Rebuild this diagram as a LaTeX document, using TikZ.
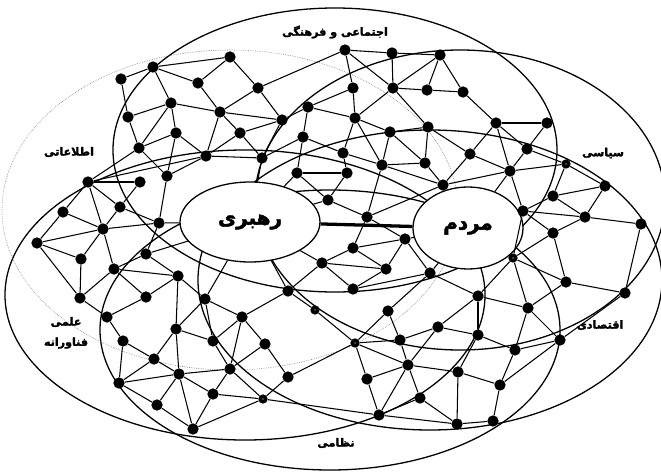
\documentclass[tikz,border=0pt]{standalone}
\usepackage{fontspec}
\usepackage{tikz}
\usetikzlibrary{shapes.geometric}
\newfontfamily\farsi[Script=Arabic, FakeBold=2.2]{DejaVu Sans Bold}
\TeXXeTstate=1
\newcommand{\rtl}[1]{\beginR#1\endR}
\tikzset{
  ring/.style={draw=black, line width=1.1pt},
  ringfaint/.style={draw=black!55, line width=0.5pt, densely dotted},
  hub/.style={ellipse, draw=black, fill=white, line width=1.1pt, inner sep=0pt,
              font=\farsi\fontsize{17}{19}\selectfont},
  dot/.style={circle, fill=black, minimum size=0.34cm, inner sep=0pt},
  odot/.style={dot, minimum size=0.28cm,
               path picture={\fill[white] (path picture bounding box.center) circle (0.6pt);}},
  lbl/.style={font=\farsi\fontsize{9.5}{11}\selectfont, inner sep=1pt},
  link/.style={draw=black, line width=0.9pt},
  boldlink/.style={draw=black, line width=1.6pt},
}
\begin{document}
\begin{tikzpicture}[x=0.03cm, y=-0.03cm]
  \useasboundingbox (0,0) rectangle (661,473);

  % the six fields
  \draw[ring] (335,150) ellipse [x radius=6.66cm, y radius=4.26cm];
  \draw[ring] (460,200) ellipse [x radius=6.15cm, y radius=4.5cm];
  \draw[ring] (430,280) ellipse [x radius=6.96cm, y radius=4.5cm];
  \draw[ring] (330,330) ellipse [x radius=6.9cm, y radius=4.2cm];
  \draw[ring] (245,295) ellipse [x radius=7.2cm, y radius=4.35cm];
  \draw[ringfaint] (230,210) ellipse [x radius=6.84cm, y radius=4.8cm];

  % leader and people
  \node[hub, minimum width=4.2cm, minimum height=2.4cm] (lead) at (250,222) {\rtl{رهبری}};
  \node[hub, minimum width=3.3cm, minimum height=2.46cm] (people) at (468,228) {\rtl{مردم}};
  \draw[line width=2.8pt] (lead) -- (people);

  % network nodes
  \foreach \i/\x/\y in {1/153/67, 2/121/79, 3/198/83, 4/171/103, 5/128/117, 6/220/112,
      7/176/133, 8/139/148, 9/206/156, 10/167/176, 11/88/182, 12/140/182, 13/120/207,
      14/63/212, 15/159/223, 16/103/229,
      17/230/57, 18/258/88, 19/282/120, 20/240/133, 21/262/158, 22/297/173, 23/347/173,
      24/328/200, 25/367/217, 26/345/50, 27/392/53, 28/440/55, 29/353/88, 30/393/88,
      31/427/90, 32/308/107, 33/355/118, 34/390/132, 35/428/127, 36/303/137, 37/343/153,
      38/382/165, 39/425/163, 40/443/185,
      41/463/92, 42/496/123, 43/547/123, 44/527/149, 45/470/154, 47/510/171, 48/605/186,
      49/553/196, 50/523/211, 51/585/217, 52/553/233,
      53/37/243, 54/81/259, 55/114/269, 56/146/254, 57/178/276, 58/80/298, 59/146/297,
      60/107/317, 61/205/299, 62/123/341, 63/176/329, 64/213/341, 65/154/359, 66/179/374,
      67/119/383, 68/213/394, 69/157/405, 70/193/429,
      71/353/248, 72/405/239, 73/322/263, 74/386/269, 75/353/289, 76/430/273, 77/288/291,
      79/242/317, 80/388/311, 81/438/327, 82/265/344, 84/400/340, 85/230/369, 86/288/377,
      87/408/365, 88/367/379, 90/420/398, 91/379/415,
      93/478/296, 94/566/282, 95/625/293, 96/641/224, 97/528/308, 98/478/335, 99/560/340,
      100/515/350, 101/458/372, 102/500/385, 104/457/424, 105/493/421}
    \node[dot] (n\i) at (\x,\y) {};
  \foreach \i/\x/\y in {46/566/164, 78/315/310, 83/355/343, 89/263/399, 92/513/258}
    \node[odot] (n\i) at (\x,\y) {};

  % links
  \foreach \a/\b in {1/2, 1/17, 1/3, 1/4, 2/5, 3/17, 3/6, 4/5, 4/6, 4/7, 4/8, 5/8, 7/8, 7/9,
      7/10, 6/9, 8/10, 8/11, 9/11, 9/10, 9/20, 9/21, 11/14, 11/16, 11/13, 12/13, 10/15,
      13/15, 13/16, 14/16, 15/16,
      53/54, 53/58, 14/53, 16/53, 54/58, 16/54, 16/55, 55/56, 55/57, 55/58, 55/59, 56/57,
      15/56, 57/63, 57/59, 61/63, 57/61, 58/60, 59/60, 60/62, 62/67, 62/65, 63/65, 65/66,
      65/67, 63/66, 63/64, 61/64, 66/67, 67/69, 66/69, 66/70, 66/68, 66/85, 68/70, 69/70,
      70/89, 61/79, 64/79, 64/85, 68/85, 68/89,
      71/72, 71/73, 71/74, 25/71, 72/74, 73/74, 73/77, 73/75, 74/75, 75/76, 77/78, 78/83,
      77/79, 79/82, 79/85, 82/85, 82/86, 85/89, 86/89, 83/86, 89/91, 83/84, 80/83, 83/88,
      83/87, 80/84, 76/80, 84/87, 81/84, 81/87, 87/88, 87/91, 87/90, 88/91, 90/91, 72/76,
      17/18, 18/26, 6/18, 18/19, 6/19, 6/20, 19/20, 20/21, 19/21, 23/24, 22/24, 24/25,
      26/27, 26/29, 29/32, 29/33, 26/30, 27/28, 27/30, 28/30, 28/31, 30/31, 30/33, 30/35,
      31/41, 32/33, 32/36, 33/34, 33/37, 33/38, 34/35, 34/38, 34/39, 35/39, 35/45, 36/37,
      37/38, 38/39, 38/40, 39/40, 25/40, 25/72, 25/38, 19/32, 21/36, 22/36, 23/37,
      28/41, 41/42, 42/43, 42/44, 42/45, 42/47, 43/44, 44/46, 44/47, 45/47, 40/45, 40/47,
      46/47, 47/50, 46/48, 46/49, 48/49, 48/51, 49/51, 49/50, 50/51, 50/52, 51/52,
      51/96, 95/96, 52/92, 50/92, 92/93, 92/94, 52/94, 94/95, 94/97, 92/97, 93/97, 93/98,
      76/93, 81/93, 81/98, 97/100, 97/99, 95/99, 98/100, 99/100, 98/101, 100/102, 99/102,
      101/102, 87/101, 101/104, 102/105, 104/105, 90/104, 91/104}
    \draw[link] (n\a) -- (n\b);
  \foreach \a/\h in {56/lead, 61/lead, 73/lead, 77/lead, 21/lead, 22/lead, 24/lead,
      15/lead, 47/people, 72/people, 76/people}
    \draw[link] (n\a) -- (\h);
  \draw[boldlink] (n22) -- (n23);
  \draw[boldlink] (n11) -- (n12);

  % field names
  \node[lbl] (soc) at (335,32) {\rtl{اجتماعی و فرهنگی}};
  \node[lbl] (info) at (69,152) {\rtl{اطلاعاتی}};
  \node[lbl] (pol) at (603,153) {\rtl{سیاسی}};
  \node[lbl] (eco) at (600,325) {\rtl{اقتصادی}};
  \node[lbl] (mil) at (336,443) {\rtl{نظامی}};
  \node[lbl] (sci) at (66,322) {\rtl{علمی}};
  \node[lbl] (tech) at (66,343) {\rtl{فناورانه}};
\end{tikzpicture}
\end{document}
